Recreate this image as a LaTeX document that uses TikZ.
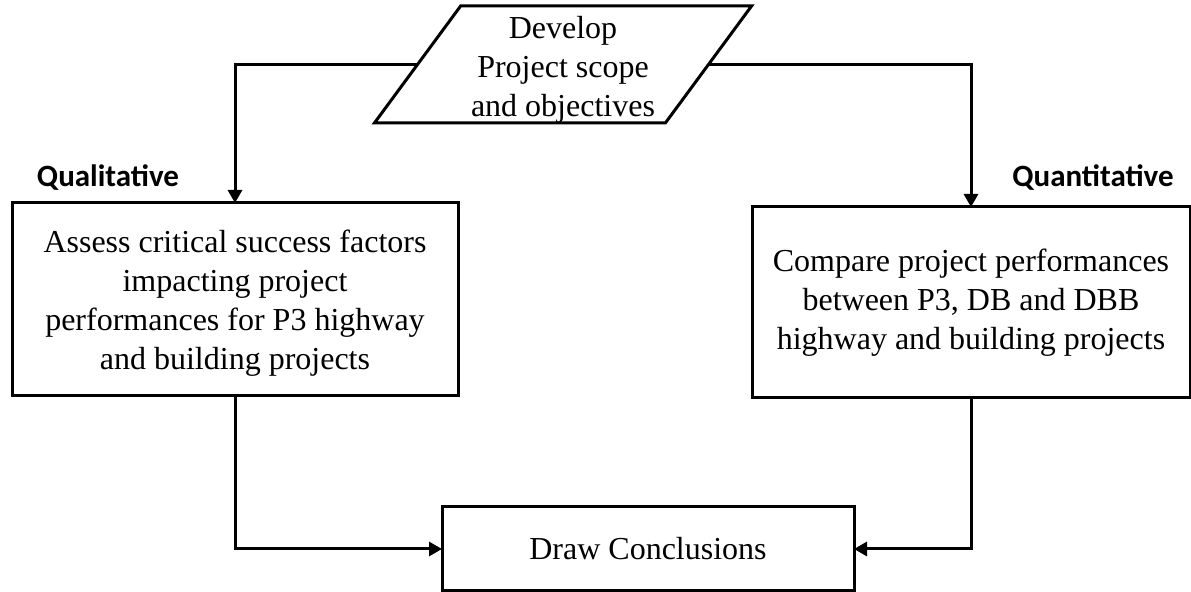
\documentclass[tikz,border=0pt]{standalone}
\usepackage{fontspec}
\setmainfont{Liberation Serif}
\newfontfamily\lblfont{Carlito}
\usetikzlibrary{arrows.meta,shapes.geometric}
\begin{document}
\begin{tikzpicture}[x=0.5pt,y=-0.5pt,
  box/.style={draw,line width=1.5pt,align=center,inner sep=0pt,outer sep=0pt,font=\fontsize{16}{19.5}\selectfont},
  arr/.style={line width=1.5pt,-{Triangle[length=6.5pt,width=7pt]}},
  lbl/.style={font=\lblfont\bfseries\fontsize{15.5}{18}\selectfont}]
\useasboundingbox (0,0) rectangle (1191,592);
\node[box,trapezium,trapezium left angle=56.5,trapezium right angle=123.5,trapezium stretches=true,minimum width=189pt,minimum height=57.5pt] (dev) at (563,64.5) {\raisebox{-2.5pt}[\height][\depth]{\begin{tabular}{@{}c@{}}Develop\\Project scope\\and objectives\end{tabular}}};
\node[box,minimum width=223pt,minimum height=96.5pt] (left) at (235,299.5) {\raisebox{-2pt}[\height][\depth]{\begin{tabular}{@{}c@{}}Assess critical success factors\\impacting project\\performances for P3 highway\\and building projects\end{tabular}}};
\node[box,minimum width=219pt,minimum height=95.5pt] (right) at (971,302.5) {Compare project performances\\between P3, DB and DBB\\highway and building projects};
\node[box,minimum width=206pt,minimum height=42pt] (concl) at (648,549) {Draw Conclusions};
\node[lbl] (ql) at (108,178) {Qualitative};
\node[lbl] (qn) at (1093,178) {Quantitative};
\draw[arr] (dev.west) -| (left.north);
\draw[arr] (dev.east) -| (right.north);
\draw[arr] (left.south) |- (concl.west);
\draw[arr] (right.south) |- (concl.east);
\end{tikzpicture}
\end{document}
